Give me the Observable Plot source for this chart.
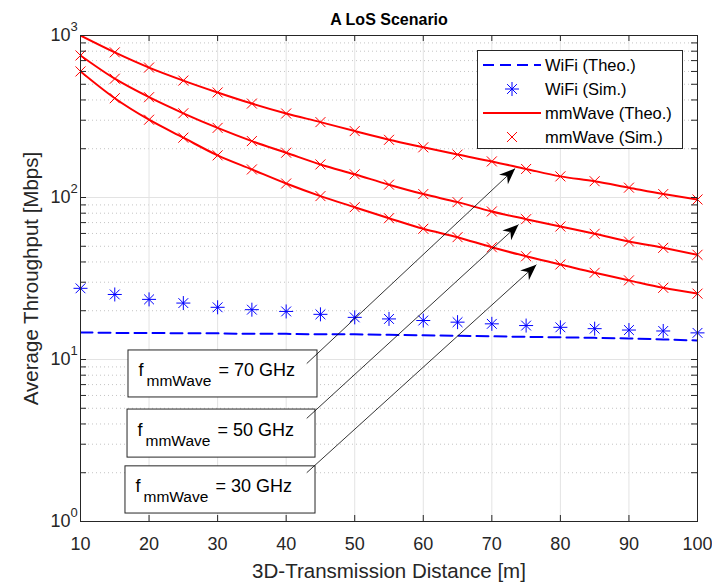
<!DOCTYPE html>
<html><head><meta charset="utf-8">
<script src="https://cdn.jsdelivr.net/npm/d3@7"></script>
<script src="https://cdn.jsdelivr.net/npm/@observablehq/plot@0.6"></script>
<style>html,body{margin:0;padding:0;background:#fff}</style>
</head><body><div id="chart"></div>
<script>
// ---- data ----
const distances = [10,15,20,25,30,35,40,45,50,55,60,65,70,75,80,85,90,95,100];
const wifiTheo = [14.7,14.6,14.6,14.5,14.5,14.4,14.4,14.3,14.3,14.2,14.1,14.0,13.9,13.8,13.7,13.6,13.5,13.3,13.1];
const wifiSim  = [27.5,25.2,23.5,22.3,21.0,20.3,19.8,19.0,18.2,17.8,17.4,17.0,16.6,16.2,15.8,15.5,15.2,15.0,14.6];
const mm70Theo = [1000,787,634,527,445,380,330,292,257,227,204,184,167,150,135,126,115,105,97.2];
const mm70Sim  = [null,787,634,527,445,380,330,292,257,227,204,184,167,150,135,126,115,105,97.2];
const mm50Theo = [753,541,416,331,269,223,189,160,139,120,105,93.6,82.0,73.5,66.2,59.7,53.5,48.9,44.3];
const mm50Sim  = [753,541,416,331,269,223,189,160,139,120,105,93.6,82.0,73.5,66.2,59.7,53.5,48.9,44.3];
const mm30Theo = [600,410,302,234,182,149,122,102,87.1,74.5,64.1,56.9,49.3,43.4,38.6,34.3,30.8,27.7,25.5];
const mm30Sim  = [600,410,302,234,182,149,122,102,87.1,74.5,64.1,56.9,49.3,43.4,38.6,34.3,30.8,27.7,25.5];

const xTicks = [10,20,30,40,50,60,70,80,90,100];
const yMajor = [1,10,100,1000];
const yMinor = [1,10,100].flatMap(b => [2,3,4,5,6,7,8,9].map(m => m*b));

const legendLabels = ["WiFi (Theo.)","WiFi (Sim.)","mmWave (Theo.)","mmWave (Sim.)"];
const annotFreqs = ["70","50","30"];
// annotation boxes and arrows (data units)
const annotBoxX1 = [17.0,16.86,16.56];
const annotBoxX2 = [44.57,44.28,44.28];
const annotBoxYTop = [11.37,4.91,2.19];
const annotBoxYBot = [5.83,2.48,1.12];
const arrowTailX = [43.0,43.0,43.0];
const arrowTailY = [9.44,4.33,2.0];
const arrowHeadX = [73.4,73.9,76.5];
const arrowHeadY = [151,68.1,38.5];

// ---- build tables ----
const pts = (arr) => distances.map((d,i)=>({d, v: arr[i]})).filter(p => p.v != null);
const theoMM = [mm70Theo, mm50Theo, mm30Theo].flatMap((a,k)=>pts(a).map(p=>({...p, s:k})));
const simMM = [mm70Sim, mm50Sim, mm30Sim].flatMap((a,k)=>pts(a).map(p=>({...p, s:k})));
const annots = annotFreqs.map((f,i)=>({f, x1:annotBoxX1[i], x2:annotBoxX2[i], yt:annotBoxYTop[i], yb:annotBoxYBot[i],
  tx:arrowTailX[i], ty:arrowTailY[i], hx:arrowHeadX[i], hy:arrowHeadY[i]}));

// custom MATLAB-like marker symbols
const symTimes = {draw(ctx, size){const r=Math.sqrt(size/Math.PI); ctx.moveTo(-r,-r);ctx.lineTo(r,r);ctx.moveTo(-r,r);ctx.lineTo(r,-r);}};
const symAst = {draw(ctx, size){const r=Math.sqrt(size/Math.PI), a=r*0.7;
  ctx.moveTo(-r,0);ctx.lineTo(r,0);ctx.moveTo(0,-r);ctx.lineTo(0,r);
  ctx.moveTo(-a,-a);ctx.lineTo(a,a);ctx.moveTo(-a,a);ctx.lineTo(a,-a);}};

const W = 712, H = 582, mL = 80, mR = 15, mT = 35, mB = 61;
const fw = W - mL - mR, fh = H - mT - mB;
const ink = "#262626";
const tickLen = 6;
const FONT = "'Liberation Sans', Arial, Helvetica, sans-serif";

const chart = Plot.plot({
  width: W, height: H,
  marginLeft: mL, marginRight: mR, marginTop: mT, marginBottom: mB,
  style: {fontFamily: FONT, background: "white", color: ink},
  x: {domain: [10,100], axis: null},
  y: {type: "log", domain: [1,1000], axis: null},
  marks: [
    // grid
    Plot.ruleY(yMinor, {y: d=>d, stroke: "#c4c4c4", strokeDasharray: "1,3", strokeWidth: 1}),
    Plot.ruleX(xTicks, {x: d=>d, stroke: "#e3e3e3", strokeWidth: 1}),
    Plot.ruleY(yMajor, {y: d=>d, stroke: "#e3e3e3", strokeWidth: 1}),
    // data
    Plot.line(pts(wifiTheo), {x:"d", y:"v", stroke:"#0000ff", strokeWidth:2, strokeDasharray:"12,6", clip:true}),
    Plot.dot(pts(wifiSim), {x:"d", y:"v", symbol: symAst, r:7, stroke:"#0000ff", strokeWidth:1, fill:"none"}),
    Plot.line(theoMM, {x:"d", y:"v", z:"s", stroke:"#ff0000", strokeWidth:2, curve:"monotone-x", clip:true}),
    Plot.dot(simMM, {x:"d", y:"v", symbol: symTimes, r:5, stroke:"#ff0000", strokeWidth:1, fill:"none"}),
    // ticks (inward)
    Plot.tickX(xTicks, {x:d=>d, insetTop: fh - tickLen, stroke: ink}),
    Plot.tickX(xTicks, {x:d=>d, insetBottom: fh - tickLen, stroke: ink}),
    Plot.tickY([...yMajor, ...yMinor], {y:d=>d, insetRight: fw - tickLen, stroke: ink}),
    Plot.tickY([...yMajor, ...yMinor], {y:d=>d, insetLeft: fw - tickLen, stroke: ink}),
    Plot.frame({stroke: ink, strokeWidth: 1}),
    // tick labels
    Plot.text(xTicks, {x:d=>d, frameAnchor:"bottom", text:d=>String(d), lineAnchor:"top", dy:16, fontSize:18, fill:ink}),
    Plot.text(yMajor, {y:d=>d, frameAnchor:"left", text:()=>"10", textAnchor:"end", dx:-10, fontSize:18, fill:ink}),
    Plot.text(yMajor, {y:d=>d, frameAnchor:"left", text:d=>String(Math.round(Math.log10(d))), textAnchor:"start", dx:-10, dy:-9, fontSize:13, fill:ink}),
    // axis labels & title
    Plot.text(["3D-Transmission Distance [m]"], {frameAnchor:"bottom", textAnchor:"middle", lineAnchor:"bottom", dy:56, fontSize:20.5, fill:ink}),
    Plot.text(["Average Throughput [Mbps]"], {frameAnchor:"left", textAnchor:"middle", lineAnchor:"bottom", rotate:-90, dx:-43, fontSize:20.5, fill:ink}),
    Plot.text(["A LoS Scenario"], {frameAnchor:"top", textAnchor:"middle", lineAnchor:"bottom", dy:-11, fontSize:16, fontWeight:"bold", fill:"#000"}),
    // annotations
    Plot.rect(annots, {x1:"x1", x2:"x2", y1:"yt", y2:"yb", fill:"white", stroke:ink, strokeWidth:1}),
    Plot.text(annots, {x:"x1", y:"yt", text:()=>"f", textAnchor:"start", lineAnchor:"bottom", dx:10, dy:26, fontSize:18, fill:"#000"}),
    Plot.text(annots, {x:"x1", y:"yt", text:()=>"mmWave", textAnchor:"start", lineAnchor:"bottom", dx:18, dy:36, fontSize:15.5, fill:"#000"}),
    Plot.text(annots, {x:"x1", y:"yt", text:d=>`= ${d.f} GHz`, textAnchor:"start", lineAnchor:"bottom", dx:90, dy:26, fontSize:18, fill:"#000"}),
    Plot.link(annots, {x1:"tx", y1:"ty", x2:"hx", y2:"hy", stroke:"#000", strokeWidth:0.8})
  ]
});

const svg = d3.select(chart);
const defs = svg.append("defs");
defs.append("marker").attr("id","ahead").attr("viewBox","-17 -8 18 16")
  .attr("refX",0).attr("refY",0).attr("markerWidth",18).attr("markerHeight",16)
  .attr("markerUnits","userSpaceOnUse").attr("orient","auto")
  .append("path").attr("d","M0,0L-16,-6.5L-11,0L-16,6.5Z").attr("fill","#000");
svg.selectAll('g[aria-label="link"] path').attr("marker-end","url(#ahead)");

// legend
const lg = svg.append("g").style("font-family", FONT).style("font-size","16.5px").attr("text-anchor","start");
lg.append("rect").attr("x",477.5).attr("y",50.5).attr("width",205).attr("height",98).attr("fill","white").attr("stroke",ink);
const rowsY = [65,89,113,137];
lg.append("line").attr("x1",483).attr("x2",541).attr("y1",rowsY[0]).attr("y2",rowsY[0]).attr("stroke","#0000ff").attr("stroke-width",2).attr("stroke-dasharray","11,6");
lg.append("path").attr("transform",`translate(512,${rowsY[1]})`).attr("d",d3.symbol(symAst, Math.PI*7*7)()).attr("stroke","#0000ff").attr("fill","none");
lg.append("line").attr("x1",483).attr("x2",541).attr("y1",rowsY[2]).attr("y2",rowsY[2]).attr("stroke","#ff0000").attr("stroke-width",2);
lg.append("path").attr("transform",`translate(512,${rowsY[3]})`).attr("d",d3.symbol(symTimes, Math.PI*25)()).attr("stroke","#ff0000").attr("fill","none");
legendLabels.forEach((t,i)=>{
  lg.append("text").attr("x",545).attr("y",rowsY[i]).attr("dy","0.35em").attr("text-anchor","start")
    .style("font-size","16.5px").attr("fill","#000").text(t);
});

document.getElementById("chart").appendChild(chart);
</script>
</body></html>
